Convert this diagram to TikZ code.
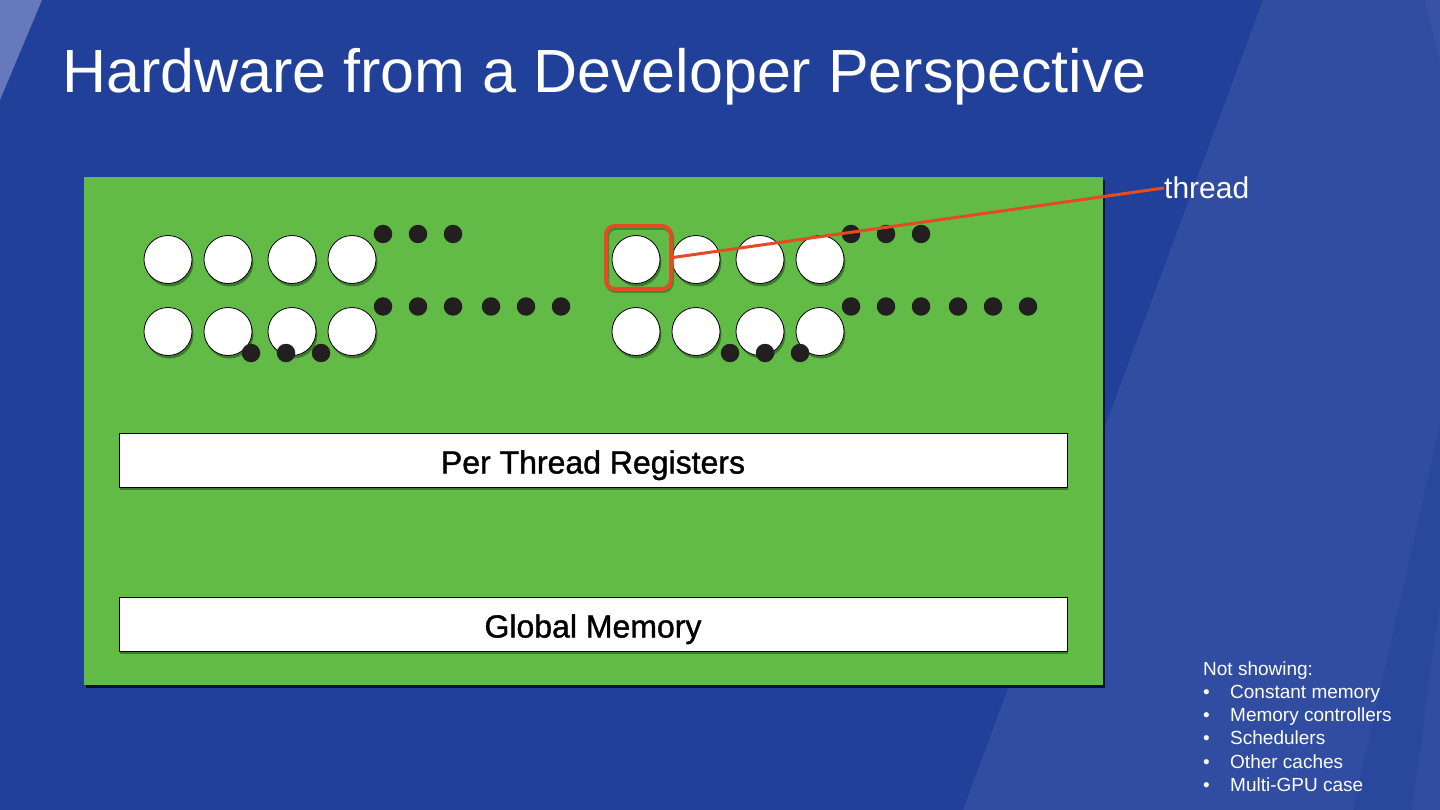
\documentclass[tikz,border=0pt]{standalone}
\usepackage{fontspec}
\setmainfont{Liberation Sans}
\newfontfamily\boxfont[FakeBold=1.2]{Liberation Sans}
\usetikzlibrary{shadows}
\definecolor{bgblue}{HTML}{21409A}
\definecolor{lightstripe}{HTML}{6679BC}
\definecolor{boardgreen}{HTML}{63BB47}
\definecolor{shadowgreen}{HTML}{3C7A2C}
\definecolor{threadred}{HTML}{E44A24}
\definecolor{dotblack}{HTML}{231F20}
\tikzset{
  thr/.style={circle, draw=black, line width=0.8pt, fill=white, minimum size=48pt, inner sep=0pt,
    drop shadow={shadow xshift=1.5pt, shadow yshift=-3pt, fill=shadowgreen, opacity=1}},
  dotnode/.style={circle, fill=dotblack, minimum size=18.5pt, inner sep=0pt},
  membox/.style={draw=black, line width=0.8pt, fill=white, minimum width=948pt, minimum height=54pt,
    inner sep=0pt, text height=27pt, text depth=0pt, font=\boxfont\fontsize{32}{38}\selectfont, text=black,
    drop shadow={shadow xshift=1pt, shadow yshift=-3pt, fill=shadowgreen, opacity=1}},
  selbox/.style={draw=threadred, line width=4pt, rounded corners=9pt, minimum width=65pt, minimum height=63pt, inner sep=0pt,
    drop shadow={shadow xshift=1pt, shadow yshift=-2pt, fill=none, draw=shadowgreen, opacity=0.8}},
  note/.style={text=white, font=\fontsize{19}{23}\selectfont, inner sep=0pt, anchor=base west}
}
\begin{document}
\begin{tikzpicture}[x=1pt, y=-1pt]
\useasboundingbox (0,0) rectangle (1440,810);
% background
\fill[bgblue] (0,0) rectangle (1440,810);
\fill[lightstripe] (0,0) -- (42,0) -- (0,100) -- cycle;
\fill[white, opacity=0.07] (1263,0) -- (1440,0) -- (1440,810) -- (963,810) -- cycle;
\fill[bgblue, opacity=0.4] (1440,424) -- (1440,600) -- (1412,810) -- (1353,810) -- cycle;
\fill[white, opacity=0.04] (1425,0) -- (1440,0) -- (1440,60) -- cycle;
% title
\node[anchor=base west, text=white, inner sep=0pt, font=\fontsize{61}{70}\selectfont] (title) at (62,93) {Hardware from a Developer Perspective};
% board
\fill[black!70!bgblue] (86,180) rectangle (1105,688);
\node[fill=boardgreen, minimum width=1019pt, minimum height=508pt, inner sep=0pt, anchor=north west] (board) at (84,177) {};
% memory boxes
\node[membox] (regs) at (593,460) {Per Thread Registers};
\node[membox] (gmem) at (593,624) {Global Memory};
% threads left group
\foreach \x [count=\i] in {168,228,292,352} {
  \node[thr] (la\i) at (\x,259.5) {};
  \node[thr] (lb\i) at (\x,331.5) {};
}
% threads right group
\foreach \x [count=\i] in {636,696,760,820} {
  \node[thr] (ra\i) at (\x,259.5) {};
  \node[thr] (rb\i) at (\x,331.5) {};
}
% dots left
\foreach \x [count=\i] in {383,418,453} { \node[dotnode] (ldt\i) at (\x,234) {}; }
\foreach \x [count=\i] in {383,418,453,491,526,561} { \node[dotnode] (ldm\i) at (\x,306.5) {}; }
\foreach \x [count=\i] in {251,286,321} { \node[dotnode] (ldb\i) at (\x,353) {}; }
% dots right
\foreach \x [count=\i] in {851,886,921} { \node[dotnode] (rdt\i) at (\x,234) {}; }
\foreach \x [count=\i] in {851,886,921,958,993,1028} { \node[dotnode] (rdm\i) at (\x,306.5) {}; }
\foreach \x [count=\i] in {730,765,800} { \node[dotnode] (rdb\i) at (\x,353) {}; }
% selection and label
\node[selbox] (sel) at (638.5,257.5) {};
\node[anchor=west, inner sep=0pt, text=white, font=\fontsize{30}{35}\selectfont] (thread) at (1164,188) {thread};
\draw[threadred, line width=3pt] (sel.east) -- (thread.west);
% notes
\node[note] (nsh) at (1203,675) {Not showing:};
\foreach \t [count=\i] in {Constant memory, Memory controllers, Schedulers, Other caches, Multi-GPU case} {
  \node[note] (b\i) at (1203,675+23.3*\i) {\textbullet};
  \node[note] (n\i) at (1230,675+23.3*\i) {\t};
}
\end{tikzpicture}
\end{document}
